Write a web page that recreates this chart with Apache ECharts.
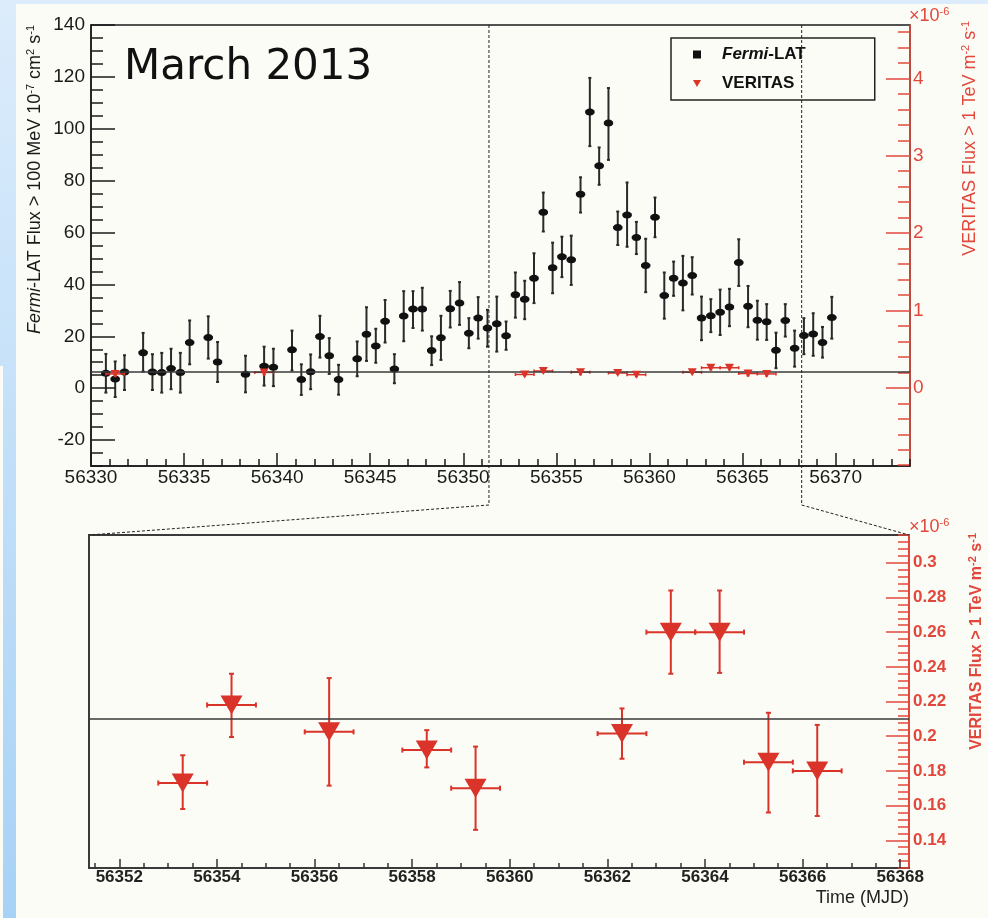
<!DOCTYPE html>
<html>
<head>
<meta charset="utf-8">
<script src="https://cdn.jsdelivr.net/npm/echarts@6/dist/echarts.min.js"></script>
<style>
  html, body { margin: 0; padding: 0; background: #fcfcf6; }
  #chart { width: 988px; height: 918px; }
</style>
</head>
<body>
<div id="chart"></div>
<script>
// ---- Fermi-LAT light curve (flux > 100 MeV, units of 1e-7 cm^-2 s^-1), 12 h bins ----
const fermiTime = [
  56330.8, 56331.3, 56331.8, 56332.8, 56333.3, 56333.8, 56334.3, 56334.8, 56335.3, 56336.3,
  56336.8, 56338.3, 56339.3, 56339.8, 56340.8, 56341.3, 56341.8, 56342.3, 56342.8, 56343.3,
  56344.3, 56344.8, 56345.3, 56345.8, 56346.3, 56346.8, 56347.3, 56347.8, 56348.3, 56348.8,
  56349.3, 56349.8, 56350.3, 56350.8, 56351.3, 56351.8, 56352.3, 56352.8, 56353.3, 56353.8,
  56354.3, 56354.8, 56355.3, 56355.8, 56356.3, 56356.8, 56357.3, 56357.8, 56358.3, 56358.8,
  56359.3, 56359.8, 56360.3, 56360.8, 56361.3, 56361.8, 56362.3, 56362.8, 56363.3, 56363.8,
  56364.3, 56364.8, 56365.3, 56365.8, 56366.3, 56366.8, 56367.3, 56367.8, 56368.3, 56368.8,
  56369.3, 56369.8
];
const fermiFlux = [
  5.8, 3.5, 6.2, 13.7, 6.2, 6.0, 7.6, 6.0, 17.6, 19.5,
  10.1, 5.4, 8.5, 8.1, 14.8, 3.3, 6.3, 19.9, 12.5, 3.3,
  11.3, 20.8, 16.3, 25.8, 7.4, 27.8, 30.5, 30.5, 14.5, 19.4,
  30.6, 32.8, 21.2, 27.1, 23.2, 24.8, 20.2, 36.0, 34.3, 42.4,
  67.8, 46.4, 50.7, 49.5, 74.8, 106.5, 85.7, 102.2, 61.9, 66.8,
  58.1, 47.3, 65.9, 35.7, 42.4, 40.5, 43.4, 27.1, 27.9, 29.3,
  31.3, 48.4, 31.6, 26.2, 25.6, 14.6, 26.1, 15.4, 20.3, 20.9,
  17.6, 27.2
];
const fermiLow = [
  -1.7, -3.4, -0.7, 6.4, -0.7, -1.7, -0.4, -1.7, 9.2, 11.4,
  2.4, -1.6, 1.0, 0.8, 6.8, -2.6, -0.4, 11.8, 5.5, -2.5,
  4.6, 10.5, 9.8, 17.6, 1.9, 18.1, 23.2, 22.2, 8.9, 10.9,
  23.4, 24.4, 15.4, 19.1, 16.0, 14.1, 14.8, 27.2, 26.6, 32.8,
  60.4, 36.6, 42.8, 39.8, 67.7, 93.3, 78.4, 88.0, 55.2, 54.5,
  51.7, 37.0, 58.2, 26.8, 35.6, 30.0, 36.1, 18.5, 21.6, 20.5,
  23.9, 39.4, 23.5, 18.7, 18.6, 7.7, 19.9, 8.3, 13.1, 12.5,
  11.8, 19.1
];
const fermiHigh = [
  13.2, 10.3, 12.7, 21.3, 13.1, 13.6, 15.2, 13.6, 26.1, 27.7,
  17.8, 12.5, 16.0, 15.2, 22.2, 9.2, 13.0, 27.9, 19.3, 9.0,
  18.0, 31.2, 22.9, 34.0, 13.1, 37.4, 37.4, 38.7, 20.0, 27.9,
  37.5, 40.9, 27.0, 35.1, 30.2, 35.3, 25.7, 44.6, 41.4, 52.0,
  75.4, 56.1, 58.4, 58.8, 81.3, 119.6, 92.8, 115.7, 68.1, 79.3,
  64.1, 57.6, 73.5, 44.6, 48.8, 51.0, 50.5, 35.3, 34.3, 38.0,
  38.3, 57.4, 39.4, 33.7, 32.4, 21.4, 32.4, 22.2, 27.0, 28.9,
  23.6, 35.2
];
const fermiHalfBin = 0.25;   // days

// ---- VERITAS nightly fluxes (> 1 TeV, units of 1e-6 m^-2 s^-1) ----
const veritasTime = [56331.3, 56339.3, 56353.3, 56354.3, 56356.3, 56358.3, 56359.3, 56362.3, 56363.3, 56364.3, 56365.3, 56366.3];
const veritasFlux = [0.180, 0.200, 0.173, 0.218, 0.2025, 0.192, 0.170, 0.2015, 0.260, 0.260, 0.185, 0.180];
const veritasLow  = [0.150, 0.170, 0.158, 0.1995, 0.1715, 0.182, 0.146, 0.187, 0.236, 0.2365, 0.156, 0.154];
const veritasHigh = [0.210, 0.230, 0.189, 0.236, 0.2335, 0.2035, 0.194, 0.216, 0.284, 0.284, 0.2135, 0.2065];
const veritasHalfBin = 0.5;  // days
const veritasConst = 0.21;   // constant fit to the VERITAS fluxes

// ---- axis ranges and tick labels ----
const topTimeRange = [56330, 56374];
const fermiRange = [-30, 140];
const veritasTopRange = [-1.01, 4.69];
const zoomTimeRange = [56351.38, 56368.18];
const veritasZoomRange = [0.124, 0.316];

const topTimeTicks = [56330, 56335, 56340, 56345, 56350, 56355, 56360, 56365, 56370];
const fermiTicks = [-20, 0, 20, 40, 60, 80, 100, 120, 140];
const veritasTopTicks = [0, 1, 2, 3, 4];
const zoomTimeTicks = [56352, 56354, 56356, 56358, 56360, 56362, 56364, 56366, 56368];
const veritasZoomTicks = [0.14, 0.16, 0.18, 0.2, 0.22, 0.24, 0.26, 0.28, 0.3];

// minor tick positions at a fixed step inside [from, to]
function steps(from, to, step) {
  const out = [];
  const n = Math.round((to - from) / step);
  for (let i = 0; i <= n; i++) out.push(+(from + i * step).toFixed(6));
  return out;
}
const topTimeMinor = steps(56330, 56374, 1);
const fermiMinor = steps(-30, 140, 5);
const veritasTopMinor = steps(-1.0, 4.6, 0.2);
const zoomTimeMinor = steps(56351.5, 56368, 0.5);
const veritasZoomMinor = steps(0.124, 0.316, 0.004);

// ---- style ----
const FONT = '"Liberation Sans", Arial, Helvetica, sans-serif';
const INK = '#1a1a1a';
const RED = '#d9332a';
const RED_AXIS = '#e2473c';
const PAPER = '#fcfcf6';

function valueAxis(o) {
  return Object.assign({
    type: 'value',
    splitLine: { show: false },
    axisLine: { show: false, onZero: false },
    axisLabel: { show: false },
    axisTick: { show: false },
    z: 3
  }, o);
}

function errorBars(color, width, hWidth, cap, hcap) {
  return function (params, api) {
    const x = api.value(0), y = api.value(1), lo = api.value(2), hi = api.value(3), hw = api.value(4);
    const a = api.coord([x, lo]), b = api.coord([x, hi]);
    const l = api.coord([x - hw, y]), r = api.coord([x + hw, y]);
    const st = { stroke: color, lineWidth: width };
    const hst = { stroke: color, lineWidth: hWidth };
    const kids = [
      { type: 'line', shape: { x1: a[0], y1: a[1], x2: b[0], y2: b[1] }, style: st },
      { type: 'line', shape: { x1: l[0], y1: l[1], x2: r[0], y2: r[1] }, style: hst },
      { type: 'line', shape: { x1: a[0] - cap, y1: a[1], x2: a[0] + cap, y2: a[1] }, style: st },
      { type: 'line', shape: { x1: b[0] - cap, y1: b[1], x2: b[0] + cap, y2: b[1] }, style: st }
    ];
    if (hcap) {
      kids.push({ type: 'line', shape: { x1: l[0], y1: l[1] - hcap, x2: l[0], y2: l[1] + hcap }, style: st });
      kids.push({ type: 'line', shape: { x1: r[0], y1: r[1] - hcap, x2: r[0], y2: r[1] + hcap }, style: st });
    }
    return { type: 'group', children: kids };
  };
}

const fermiRows = fermiTime.map((t, i) => [t, fermiFlux[i], fermiLow[i], fermiHigh[i], fermiHalfBin]);
const veritasRows = veritasTime.map((t, i) => [t, veritasFlux[i], veritasLow[i], veritasHigh[i], veritasHalfBin]);
const veritasZoomRows = veritasRows.filter(r => r[0] > zoomTimeRange[0] && r[0] < zoomTimeRange[1]);

const constLine = {
  silent: true, symbol: 'none', label: { show: false },
  lineStyle: { color: '#3a3a3a', width: 1.5, type: 'solid', opacity: 1 },
  emphasis: { disabled: true },
  data: [{ yAxis: veritasConst }]
};

const sup = { fontSize: 11, verticalAlign: 'top', lineHeight: 11 };

const chart = echarts.init(document.getElementById('chart'), null, { renderer: 'canvas' });

chart.setOption({
  animation: false,
  backgroundColor: 'transparent',
  textStyle: { fontFamily: FONT },
  grid: [
    { left: 91, top: 25, width: 819, height: 441, show: true, backgroundColor: PAPER, borderColor: INK, borderWidth: 1.5 },
    { left: 89, top: 535, width: 820, height: 333, show: true, backgroundColor: PAPER, borderColor: '#3a3a3a', borderWidth: 2 }
  ],
  legend: {
    left: 671, top: 38, orient: 'vertical',
    itemWidth: 8, itemHeight: 8, itemGap: 12,
    padding: [8, 69, 8, 22],
    borderColor: '#222', borderWidth: 1.5, backgroundColor: PAPER,
    selectedMode: false,
    data: [
      { name: 'Fermi-LAT', icon: 'rect', itemStyle: { color: '#111', opacity: 1 } },
      { name: 'VERITAS', icon: 'path://M0,0L10,0L5,9Z', itemStyle: { color: RED, opacity: 1 } }
    ],
    formatter: name => name === 'Fermi-LAT' ? '{p|}{it|Fermi}{b|-LAT}' : '{p|}{b|VERITAS}',
    textStyle: {
      fontFamily: FONT, fontSize: 17, fontWeight: 'bold', color: '#111',
      rich: {
        p: { width: 16, lineHeight: 20 },
        it: { fontFamily: FONT, fontSize: 17, fontWeight: 'bold', fontStyle: 'italic', color: '#111', lineHeight: 20 },
        b: { fontFamily: FONT, fontSize: 17, fontWeight: 'bold', color: '#111', lineHeight: 20 }
      }
    }
  },
  xAxis: [
    valueAxis({
      gridIndex: 0, min: topTimeRange[0], max: topTimeRange[1], position: 'bottom',
      axisLine: { show: true, onZero: false, lineStyle: { color: INK, width: 1.5 } },
      axisTick: { show: true, inside: true, length: 13, customValues: topTimeTicks, lineStyle: { color: INK, width: 1.5 } },
      axisLabel: { show: true, customValues: topTimeTicks, formatter: v => String(v), fontSize: 19, fontFamily: FONT, color: INK, margin: 2, hideOverlap: false }
    }),
    valueAxis({
      gridIndex: 0, min: topTimeRange[0], max: topTimeRange[1], position: 'bottom',
      axisTick: { show: true, inside: true, length: 7, customValues: topTimeMinor, lineStyle: { color: INK, width: 1.5 } }
    }),
    valueAxis({
      gridIndex: 1, min: zoomTimeRange[0], max: zoomTimeRange[1], position: 'bottom',
      axisLine: { show: true, onZero: false, lineStyle: { color: '#3a3a3a', width: 2 } },
      axisTick: { show: true, inside: true, length: 9, customValues: zoomTimeTicks, lineStyle: { color: '#333', width: 1.5 } },
      axisLabel: { show: true, customValues: zoomTimeTicks, formatter: v => String(v), fontSize: 17, fontWeight: 'bold', fontFamily: FONT, color: '#222', margin: 1, hideOverlap: false },
      name: 'Time (MJD)', nameLocation: 'end', nameGap: 0,
      nameTextStyle: { fontFamily: FONT, fontSize: 18, color: '#222', align: 'right', verticalAlign: 'top', padding: [21, 0, 0, 0] }
    }),
    valueAxis({
      gridIndex: 1, min: zoomTimeRange[0], max: zoomTimeRange[1], position: 'bottom',
      axisTick: { show: true, inside: true, length: 5, customValues: zoomTimeMinor, lineStyle: { color: '#333', width: 1.5 } }
    })
  ],
  yAxis: [
    valueAxis({
      gridIndex: 0, min: fermiRange[0], max: fermiRange[1], position: 'left',
      axisLine: { show: true, onZero: false, lineStyle: { color: INK, width: 1.5 } },
      axisTick: { show: true, inside: true, length: 24, customValues: fermiTicks, lineStyle: { color: INK, width: 1.5 } },
      axisLabel: { show: true, customValues: fermiTicks, formatter: v => String(v), fontSize: 19, fontFamily: FONT, color: INK, margin: 6, hideOverlap: false }
    }),
    valueAxis({
      gridIndex: 0, min: fermiRange[0], max: fermiRange[1], position: 'left',
      axisTick: { show: true, inside: true, length: 12, customValues: fermiMinor, lineStyle: { color: INK, width: 1.5 } }
    }),
    valueAxis({
      gridIndex: 0, min: veritasTopRange[0], max: veritasTopRange[1], position: 'right',
      axisLine: { show: true, onZero: false, lineStyle: { color: RED_AXIS, width: 1.5 } },
      axisTick: { show: true, inside: true, length: 24, customValues: veritasTopTicks, lineStyle: { color: RED_AXIS, width: 1.5 } },
      axisLabel: { show: true, customValues: veritasTopTicks, formatter: v => String(v), fontSize: 19, fontFamily: FONT, color: RED_AXIS, margin: 3, hideOverlap: false }
    }),
    valueAxis({
      gridIndex: 0, min: veritasTopRange[0], max: veritasTopRange[1], position: 'right',
      axisTick: { show: true, inside: true, length: 12, customValues: veritasTopMinor, lineStyle: { color: RED_AXIS, width: 1.5 } }
    }),
    valueAxis({
      gridIndex: 1, min: veritasZoomRange[0], max: veritasZoomRange[1], position: 'left',
      axisLine: { show: true, onZero: false, lineStyle: { color: '#3a3a3a', width: 2 } }
    }),
    valueAxis({
      gridIndex: 1, min: veritasZoomRange[0], max: veritasZoomRange[1], position: 'right',
      axisLine: { show: true, onZero: false, lineStyle: { color: RED_AXIS, width: 2 } },
      axisTick: { show: true, inside: true, length: 23, customValues: veritasZoomTicks, lineStyle: { color: RED_AXIS, width: 1.5 } },
      axisLabel: { show: true, customValues: veritasZoomTicks, formatter: v => String(v), fontSize: 17, fontWeight: 'bold', fontFamily: FONT, color: RED_AXIS, margin: 4, hideOverlap: false }
    }),
    valueAxis({
      gridIndex: 1, min: veritasZoomRange[0], max: veritasZoomRange[1], position: 'right',
      axisTick: { show: true, inside: true, length: 11, customValues: veritasZoomMinor, lineStyle: { color: RED_AXIS, width: 1.5 } }
    })
  ],
  series: [
    {
      name: 'fermiErrors', type: 'custom', xAxisIndex: 0, yAxisIndex: 0,
      renderItem: errorBars('#2a2a2a', 2, 3, 1.5, 0), encode: { x: 0, y: 1 },
      data: fermiRows, silent: true, z: 2
    },
    {
      name: 'Fermi-LAT', type: 'scatter', xAxisIndex: 0, yAxisIndex: 0,
      symbol: 'circle', symbolSize: [9, 7], itemStyle: { color: '#111', opacity: 1 },
      emphasis: { disabled: true }, silent: true, z: 3,
      data: fermiTime.map((t, i) => [t, fermiFlux[i]])
    },
    {
      name: 'veritasErrors', type: 'custom', xAxisIndex: 0, yAxisIndex: 2,
      renderItem: errorBars(RED, 1.5, 1.5, 1.5, 1.5), encode: { x: 0, y: 1 },
      data: veritasRows, silent: true, z: 4
    },
    {
      name: 'VERITAS', type: 'scatter', xAxisIndex: 0, yAxisIndex: 2,
      symbol: 'triangle', symbolRotate: 180, symbolSize: [9, 8], itemStyle: { color: RED, opacity: 1 },
      emphasis: { disabled: true }, silent: true, z: 5,
      data: veritasRows.map(r => [r[0], r[1]]),
      markLine: constLine
    },
    {
      name: 'veritasZoomErrors', type: 'custom', xAxisIndex: 2, yAxisIndex: 5,
      renderItem: errorBars(RED, 2, 2, 2.5, 2.5), encode: { x: 0, y: 1 },
      data: veritasZoomRows, silent: true, z: 4
    },
    {
      name: 'VERITAS', type: 'scatter', xAxisIndex: 2, yAxisIndex: 5,
      symbol: 'triangle', symbolRotate: 180, symbolSize: [22, 19], itemStyle: { color: RED, opacity: 1 },
      emphasis: { disabled: true }, silent: true, z: 5,
      data: veritasZoomRows.map(r => [r[0], r[1]]),
      markLine: constLine
    }
  ],
  graphic: [
    {
      id: 'pageBg', type: 'rect', z: -20, silent: true,
      shape: { x: 0, y: 0, width: 988, height: 918 },
      style: { fill: new echarts.graphic.LinearGradient(0, 0, 0, 1, [
        { offset: 0, color: '#dcecfb' }, { offset: 1, color: '#a7d2f6' }
      ]) }
    },
    { id: 'paper', type: 'rect', z: -19, silent: true, shape: { x: 16, y: 4, width: 972, height: 914 }, style: { fill: PAPER } },
    { id: 'paperEdge', type: 'rect', z: -19, silent: true, shape: { x: 0, y: 366, width: 3, height: 552 }, style: { fill: PAPER } },
    {
      id: 'month', type: 'text', z: 10, silent: true, x: 124, y: 68,
      style: { text: 'March 2013', font: '42px "DejaVu Sans", Verdana, sans-serif', fill: '#111', verticalAlign: 'middle' }
    },
    {
      id: 'fermiTitle', type: 'text', z: 10, silent: true, x: 35, y: 25, rotation: Math.PI / 2,
      style: {
        text: '{it|Fermi}{n|-LAT Flux > 100 MeV 10}{sup|-7}{n| cm}{sup|2}{n| s}{sup|-1}',
        align: 'right', verticalAlign: 'middle', fill: INK,
        rich: {
          it: { fontFamily: FONT, fontSize: 18, fontStyle: 'italic', lineHeight: 20, fill: INK },
          n: { fontFamily: FONT, fontSize: 18, lineHeight: 20, fill: INK },
          sup: Object.assign({ fontFamily: FONT, fill: INK }, sup)
        }
      }
    },
    {
      id: 'veritasTopTitle', type: 'text', z: 10, silent: true, x: 970, y: 21, rotation: Math.PI / 2,
      style: {
        text: '{n|VERITAS Flux > 1 TeV m}{sup|-2}{n| s}{sup|-1}',
        align: 'right', verticalAlign: 'middle', fill: RED_AXIS,
        rich: {
          n: { fontFamily: FONT, fontSize: 18, lineHeight: 20, fill: RED_AXIS },
          sup: Object.assign({ fontFamily: FONT, fill: RED_AXIS }, sup)
        }
      }
    },
    {
      id: 'veritasTopScale', type: 'text', z: 10, silent: true, x: 909, y: 16,
      style: {
        text: '{n|×10}{sup|-6}', align: 'left', verticalAlign: 'middle', fill: RED_AXIS,
        rich: {
          n: { fontFamily: FONT, fontSize: 18, lineHeight: 20, fill: RED_AXIS },
          sup: Object.assign({ fontFamily: FONT, fill: RED_AXIS }, sup)
        }
      }
    },
    {
      id: 'veritasZoomTitle', type: 'text', z: 10, silent: true, x: 977, y: 533, rotation: Math.PI / 2,
      style: {
        text: '{n|VERITAS Flux > 1 TeV m}{sup|-2}{n| s}{sup|-1}',
        align: 'right', verticalAlign: 'middle', fill: RED_AXIS,
        rich: {
          n: { fontFamily: FONT, fontSize: 16, fontWeight: 'bold', lineHeight: 19, fill: RED_AXIS },
          sup: Object.assign({ fontFamily: FONT, fontWeight: 'bold', fill: RED_AXIS }, sup)
        }
      }
    },
    {
      id: 'veritasZoomScale', type: 'text', z: 10, silent: true, x: 909, y: 527,
      style: {
        text: '{n|×10}{sup|-6}', align: 'left', verticalAlign: 'middle', fill: RED_AXIS,
        rich: {
          n: { fontFamily: FONT, fontSize: 18, lineHeight: 20, fill: RED_AXIS },
          sup: Object.assign({ fontFamily: FONT, fill: RED_AXIS }, sup)
        }
      }
    }
  ]
});

// Dashed guides marking the zoomed time window, from the upper panel to the lower frame
(function drawZoomGuides() {
  const topLo = chart.convertToPixel({ seriesIndex: 0 }, [zoomTimeRange[0], fermiRange[1]]);
  const topHi = chart.convertToPixel({ seriesIndex: 0 }, [zoomTimeRange[1], fermiRange[1]]);
  const axisY = chart.convertToPixel({ seriesIndex: 0 }, [zoomTimeRange[0], fermiRange[0]])[1];
  const kneeY = axisY + 39;
  const botLo = chart.convertToPixel({ seriesIndex: 4 }, [zoomTimeRange[0], veritasZoomRange[1]]);
  const botHi = chart.convertToPixel({ seriesIndex: 4 }, [zoomTimeRange[1], veritasZoomRange[1]]);
  const dash = { stroke: '#222', lineWidth: 1, lineDash: [3, 2], fill: null };
  chart.setOption({
    graphic: [
      { id: 'guideLo', type: 'polyline', z: 6, silent: true,
        shape: { points: [[topLo[0], topLo[1]], [topLo[0], kneeY], [botLo[0], botLo[1]]] }, style: dash },
      { id: 'guideHi', type: 'polyline', z: 6, silent: true,
        shape: { points: [[topHi[0], topHi[1]], [topHi[0], kneeY], [botHi[0], botHi[1]]] }, style: dash }
    ]
  });
})();
</script>
</body>
</html>
